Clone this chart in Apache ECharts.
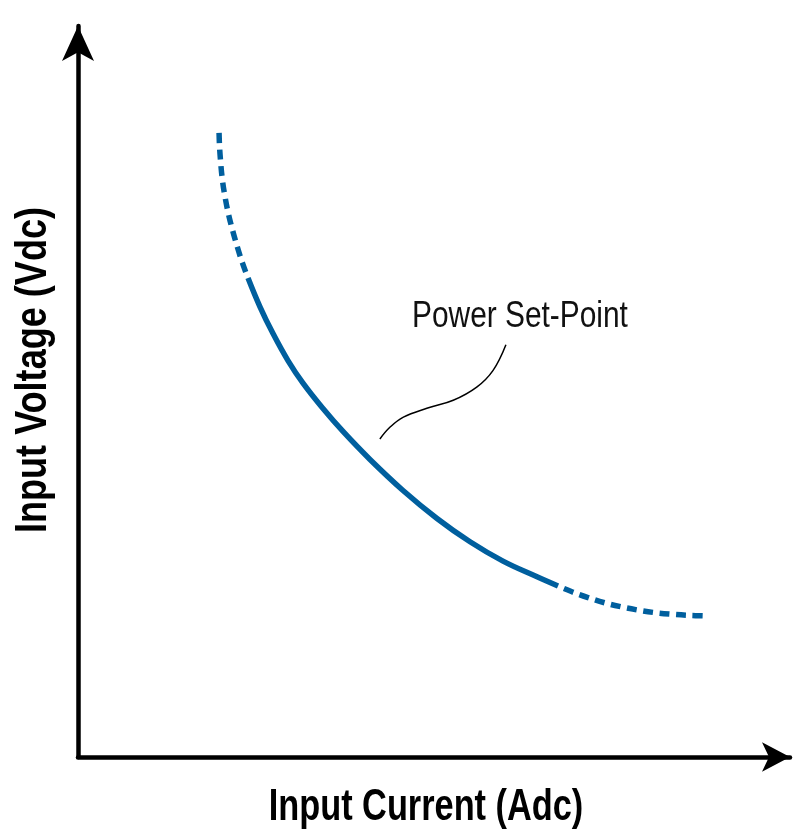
<!DOCTYPE html>
<html>
<head>
<meta charset="utf-8">
<script src="https://cdn.jsdelivr.net/npm/echarts@6/dist/echarts.min.js"></script>
<style>
  html, body { margin: 0; padding: 0; background: #fff; }
  #chart { width: 804px; height: 836px; }
</style>
</head>
<body>
<div id="chart"></div>
<script>
// curve, arbitrary units (0..100 on both axes)
// dashed parts are listed starting from the solid part so the dash pattern lines up there
const upperDashed = [[23.88, 65.53], [23.08, 67.62], [22.37, 69.81], [21.70, 72.09], [21.11, 74.38], [20.63, 76.74], [20.27, 79.03], [20.03, 81.44], [19.87, 83.72], [19.80, 85.91]]
const solidPart = [[23.88, 65.53], [25.56, 61.59], [27.39, 57.92], [29.49, 54.23], [31.60, 51.14], [34.41, 47.67], [37.22, 44.53], [41.01, 40.70], [45.65, 36.46], [50.42, 32.63], [55.06, 29.44], [59.69, 26.79], [64.47, 24.65], [67.42, 23.39]]
const lowerDashed = [[67.42, 23.39], [69.38, 22.60], [71.63, 21.81], [74.02, 21.08], [76.40, 20.52], [78.65, 20.10], [81.04, 19.75], [83.57, 19.52], [85.96, 19.37], [88.34, 19.29]]
const leader = [[42.4, 43.5], [43.8, 45.1], [45.7, 46.5], [49.0, 47.7], [52.7, 48.8], [56.0, 50.6], [58.3, 52.9], [60.1, 56.4]]

const xTitle = 'Input Current (Adc)'
const yTitle = 'Input Voltage (Vdc)'
const note = 'Power Set-Point'

const blue = '#005f9e'
// no condensed font installed, so the titles are squeezed horizontally
const sans = '"Liberation Sans", Arial, sans-serif'

const chart = echarts.init(document.getElementById('chart'))

const curve = (data, dashed) => ({
  type: 'line',
  data: data,
  smooth: 0.4,
  showSymbol: false,
  silent: true,
  lineStyle: {
    color: blue,
    width: 5.5,
    cap: 'butt',
    type: dashed ? [10, 6.5] : 'solid',
    dashOffset: dashed ? 10 : 0
  }
})

const axisBase = {
  type: 'value',
  min: 0,
  max: 100,
  axisLabel: { show: false },
  axisTick: { show: false },
  splitLine: { show: false }
}

chart.setOption({
  animation: false,
  grid: { left: 78, right: 14, top: 26, bottom: 79 },
  xAxis: Object.assign({}, axisBase, {
    axisLine: {
      show: true,
      onZero: false,
      symbol: ['none', 'arrow'],
      symbolSize: [22, 28],
      lineStyle: { color: '#000', width: 4.5 }
    }
  }),
  yAxis: Object.assign({}, axisBase, {
    axisLine: {
      show: true,
      onZero: false,
      symbol: ['none', 'arrow'],
      symbolSize: [24, 35],
      lineStyle: { color: '#000', width: 4.5 }
    }
  }),
  series: [
    curve(upperDashed, true),
    curve(solidPart, false),
    curve(lowerDashed, true),
    {
      type: 'line',
      data: leader,
      smooth: 0.4,
      showSymbol: false,
      silent: true,
      lineStyle: { color: '#000', width: 1.5 }
    }
  ],
  graphic: [
    {
      type: 'text',
      x: 412,
      y: 317,
      scaleX: 0.83,
      style: {
        text: note,
        font: '36px ' + sans,
        fill: '#111',
        textVerticalAlign: 'middle'
      }
    },
    {
      type: 'text',
      x: 426,
      y: 808,
      scaleX: 0.78,
      style: {
        text: xTitle,
        font: 'bold 44px ' + sans,
        fill: '#000',
        textAlign: 'center',
        textVerticalAlign: 'middle'
      }
    },
    {
      type: 'text',
      x: 34,
      y: 370,
      rotation: Math.PI / 2,
      scaleX: 0.82,
      style: {
        text: yTitle,
        font: 'bold 44px ' + sans,
        fill: '#000',
        textAlign: 'center',
        textVerticalAlign: 'middle'
      }
    }
  ]
})
</script>
</body>
</html>
